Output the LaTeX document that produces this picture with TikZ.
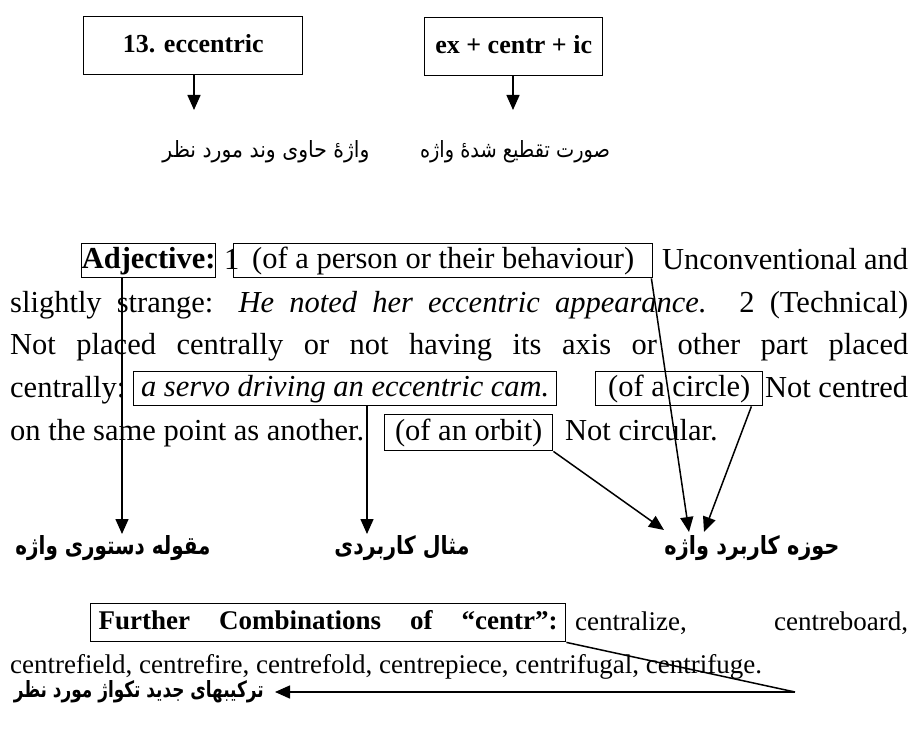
\documentclass[tikz,border=0pt]{standalone}
\usepackage{fontspec}
\usepackage{graphicx}
\setmainfont{Liberation Serif}
\newfontfamily\fa[Script=Arabic]{DejaVu Sans}
\usetikzlibrary{arrows.meta}
\TeXXeTstate=1
\begin{document}
\begin{tikzpicture}[x=1pt,y=-1pt,
  body/.style={font=\fontsize{30.5}{36}\selectfont, inner sep=0pt, anchor=base west},
  small/.style={font=\fontsize{27}{32}\selectfont, inner sep=0pt, anchor=base west},
  ibox/.style={draw, line width=1.4pt, inner sep=0pt, anchor=north west,
    text height=22pt, text depth=6pt, font=\fontsize{30.5}{36}\selectfont},
  topbox/.style={draw, line width=1.4pt, inner sep=0pt, anchor=north west,
    text height=19pt, text depth=6pt, font=\fontsize{26}{31}\selectfont\bfseries},
  fbox/.style={draw, line width=1.4pt, inner sep=0pt, anchor=north west,
    text height=19pt, text depth=6pt, font=\fontsize{27}{32}\selectfont\bfseries},
  fa/.style={inner sep=2pt, font=\fa},
  arr/.style={line width=1.5pt, -{Triangle[length=15pt,width=13pt]}},
  plain/.style={line width=1.5pt}
]
\useasboundingbox (0,0) rectangle (918,733);

% top boxes
\node[topbox, minimum width=219pt, minimum height=58pt] (w1) at (83,16) {13. eccentric};
\node[topbox, minimum width=178pt, minimum height=58pt] (w2) at (424,17) {ex + centr + ic};
\coordinate (tw1) at (194,110);
\coordinate (tw2) at (513,110);
\draw[arr] (w1.south -| tw1) -- (tw1);
\draw[arr] (w2.south -| tw2) -- (tw2);
\node[fa] (l1) at (266,152) {\resizebox{207pt}{17pt}{\beginR واژهٔ حاوی وند مورد نظر\endR}};
\node[fa] (l2) at (515,152) {\resizebox{190pt}{17pt}{\beginR صورت تقطیع شدهٔ واژه\endR}};

% paragraph line 1
\node[ibox, minimum width=134pt, minimum height=34pt] (adj) at (81,243) {\bfseries Adjective:};
\node[body] (n1) at (224,269) {1};
\node[ibox, minimum width=419pt, minimum height=34pt] (per) at (233,243) {(of a person or their behaviour)};
\node[body] (t12) at (662,269) {\makebox[246pt][s]{Unconventional and}};
% line 2, 3
\node[body] (t2) at (10,312) {\makebox[898pt][s]{slightly strange: \textit{He noted her eccentric appearance.} 2 (Technical)}};
\node[body] (t3) at (10,354) {\makebox[898pt][s]{Not placed centrally or not having its axis or other part placed}};
% line 4
\node[body] (t41) at (10,397) {centrally:};
\node[ibox, minimum width=423pt, minimum height=34pt] (servo) at (133,371) {\itshape a servo driving an eccentric cam.};
\node[ibox, minimum width=167pt, minimum height=34pt] (circ) at (595,371) {(of a circle)};
\node[body] (t42) at (765,397) {\makebox[143pt][s]{Not centred}};
% line 5
\node[body] (t51) at (10,440) {on the same point as another.};
\node[ibox, minimum width=168pt, minimum height=36pt] (orb) at (384,414) {(of an orbit)};
\node[body] (t52) at (565,440) {Not circular.};

% labels row 2
\node[fa] (g1) at (113,548) {\resizebox{195pt}{19pt}{\bfseries\beginR مقوله دستوری واژه\endR}};
\node[fa] (g2) at (402,548) {\resizebox{135pt}{19pt}{\bfseries\beginR مثال کاربردی\endR}};
\node[fa] (g3) at (752,548) {\resizebox{175pt}{19pt}{\bfseries\beginR حوزه کاربرد واژه\endR}};

\coordinate (adjfoot) at ([xshift=41pt]adj.south west);
\coordinate (servofoot) at ([xshift=234pt]servo.south west);
\coordinate (circfoot) at ([xshift=-12pt]circ.south east);
\coordinate (ta) at (122,534);
\coordinate (ts) at (367,534);
\coordinate (tp) at (689,532);
\coordinate (tc) at (704,532);
\coordinate (to) at (664,530);
\draw[arr] (adjfoot) -- (adjfoot |- ta);
\draw[arr] (servofoot) -- (servofoot |- ts);
\draw[arr] ([xshift=-2pt]per.south east) -- (tp);
\draw[arr] (circfoot) -- (tc);
\draw[arr] (orb.south east) -- (to);

% further combinations
\node[fbox, minimum width=475pt, minimum height=38pt] (fc) at (90,603) {\makebox[459pt][s]{Further Combinations of “centr”:}};
\node[small] (c1) at (575,630) {\makebox[333pt][s]{centralize, centreboard,}};
\node[small] (c2) at (10,673) {centrefield, centrefire, centrefold, centrepiece, centrifugal, centrifuge.};
\coordinate (fe) at (795,692);
\coordinate (ft) at (275,692);
\node[fa, anchor=east] (fl) at (266,692) {\resizebox{250pt}{17pt}{\bfseries\beginR ترکیبهای جدید تکواژ مورد نظر\endR}};
\draw[plain] (fc.south east) -- (fe);
\draw[arr] (fe) -- (ft);
\end{tikzpicture}
\end{document}
